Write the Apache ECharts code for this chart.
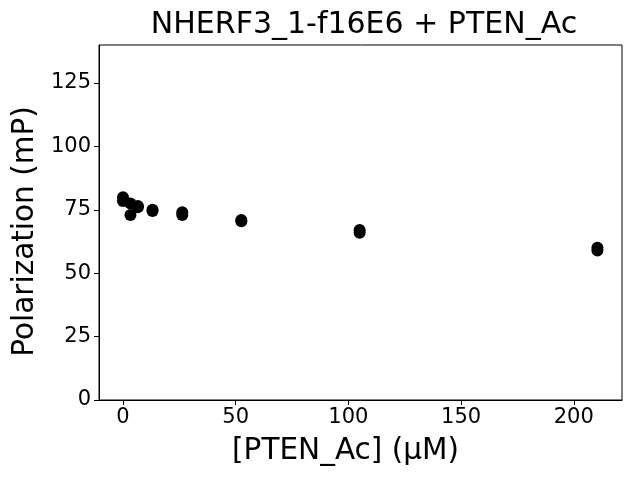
<!DOCTYPE html>
<html><head><meta charset="utf-8">
<script src="https://cdn.jsdelivr.net/npm/echarts@6/dist/echarts.min.js"></script>
<style>html,body{margin:0;padding:0;background:#fff}#c{width:640px;height:480px}</style>
</head><body><div id="c"></div>
<script>
const concentrations = [0, 0, 3.3, 3.3, 6.6, 6.6, 13.1, 13.1, 26.3, 26.3, 52.5, 52.5, 105, 105, 210.5, 210.5];
const polarization = [80, 78.5, 73, 77.5, 76.5, 76, 75, 74.5, 74, 73, 71, 70.5, 67, 66, 60, 59];
const xTicks = [0, 50, 100, 150, 200];
const yTicks = [0, 25, 50, 75, 100, 125];
const titleText = 'NHERF3_1-f16E6 + PTEN_Ac';
const xName = '[PTEN_Ac] (μM)';
const yName = 'Polarization (mP)';

const font = 'DejaVu Sans';
const chart = echarts.init(document.getElementById('c'), null, {renderer: 'canvas'});
chart.setOption({
  animation: false,
  backgroundColor: '#fff',
  title: {text: titleText, left: 359, textAlign: 'center', top: 5,
    textStyle: {fontFamily: font, fontSize: 30, fontWeight: 'normal', color: '#000'}},
  grid: {left: 99, right: 18, top: 45, bottom: 80, show: true, borderColor: '#000', borderWidth: 1, containLabel: false},
  xAxis: {type: 'value', min: -10.65, max: 221.4,
    name: xName, nameLocation: 'middle', nameGap: 36,
    nameTextStyle: {fontFamily: font, fontSize: 29.5, color: '#000', padding: [0, 30, 0, 0]},
    axisLine: {show: true, onZero: false, lineStyle: {color: '#000', width: 1}},
    axisTick: {show: true, inside: false, length: 5, customValues: xTicks, lineStyle: {color: '#000'}},
    axisLabel: {customValues: xTicks, fontFamily: font, fontSize: 21, color: '#000', margin: 7},
    splitLine: {show: false}},
  yAxis: {type: 'value', min: 0, max: 140,
    name: yName, nameLocation: 'middle', nameGap: 57,
    nameTextStyle: {fontFamily: font, fontSize: 29.5, color: '#000', padding: [0, 18, 0, 0]},
    axisLine: {show: true, onZero: false, lineStyle: {color: '#000', width: 1}},
    axisTick: {show: true, inside: false, length: 5, customValues: yTicks, lineStyle: {color: '#000'}},
    axisLabel: {customValues: yTicks, fontFamily: font, fontSize: 21, color: '#000', margin: 8},
    splitLine: {show: false}},
  series: [{type: 'scatter', symbol: 'circle', symbolSize: 12,
    itemStyle: {color: '#000', opacity: 1},
    data: concentrations.map((x, i) => [x, polarization[i]])}]
});
</script></body></html>
